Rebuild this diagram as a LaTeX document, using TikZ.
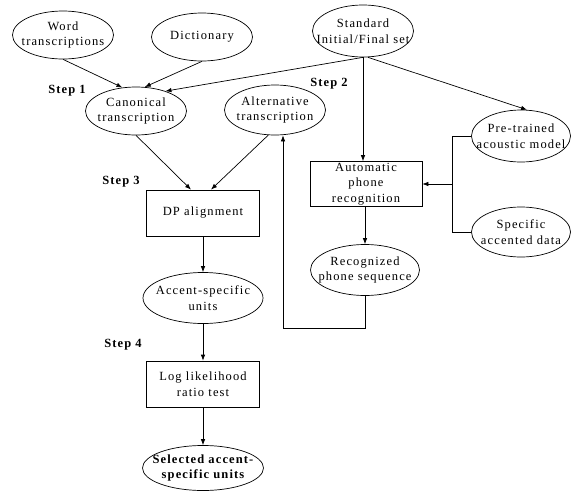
\documentclass[tikz,border=0pt]{standalone}
\usepackage{fontspec}
\setmainfont{Liberation Serif}[LetterSpace=9]
\usetikzlibrary{shapes.geometric, arrows.meta}
\newcommand{\diagfont}{\fontsize{12.5}{15.5}\selectfont}
\begin{document}
\begin{tikzpicture}[
x=1pt, y=-1pt,
font=\diagfont,
source/.style={ellipse, draw=black, line width=0.7pt, minimum width=101pt, minimum height=48pt, inner sep=0pt},
process/.style={rectangle, draw=black, line width=0.7pt, minimum width=113pt, minimum height=46pt, inner sep=0pt, align=center},
steplabel/.style={font=\diagfont\bfseries},
flow/.style={-{Latex[length=6pt, width=4.5pt]}, line width=0.7pt},
link/.style={line width=0.7pt},
every label/.style={align=center},
]
\useasboundingbox (0,0) rectangle (571,493);

\node[source] [label=center:{Word\\transcriptions}] (word) at (63,35) {};
\node[source] [label=center:{Dictionary}] (dict) at (202,37) {};
\node[source, minimum height=52pt] [label=center:{Standard\\Initial/Final set}] (std) at (363,31) {};
\node[source] [label=center:{Canonical\\transcription}] (canon) at (136,111) {};
\node[source, minimum height=50pt] [label=center:{Alternative\\transcription}] (alt) at (275,110) {};
\node[source, minimum width=99pt, minimum height=52pt] [label=center:{Pre-trained\\acoustic model}] (pretrained) at (521,136) {};
\node[process, minimum width=112pt, minimum height=45pt] (apr) at (366,184) {Automatic\\phone\\recognition};
\node[source, minimum width=99pt, minimum height=50pt] [label=center:{Specific\\accented data}] (specific) at (521,232) {};
\node[source, minimum width=109pt, minimum height=51pt] [label=center:{Recognized\\phone sequence}] (recog) at (365,270) {};
\node[process] (dp) at (203,213) {DP alignment};
\node[source, minimum width=120pt, minimum height=51pt] [label=center:{Accent-specific\\units}] (accent) at (203,298) {};
\node[process] (llr) at (203,384) {Log likelihood\\ratio test};
\node[source, minimum width=121pt, minimum height=45pt] [label={[font=\diagfont\bfseries]center:{Selected accent-\\specific units}}] (selected) at (203,468) {};

\node[steplabel] (step1) at (67,91) {Step 1};
\node[steplabel] (step2) at (329,84) {Step 2};
\node[steplabel] (step3) at (121,182) {Step 3};
\node[steplabel] (step4) at (123,345) {Step 4};

\coordinate (join) at (452,184);
\coordinate (loop) at (283,328);

\draw[flow] (word.south) -- (canon.120);
\draw[flow] (dict.south) -- (canon.70);
\draw[flow] (std.south) -- (canon.34);
\draw[flow] (std.south) -- (std.south |- apr.north);
\draw[flow] (std.-80) -- (pretrained.77);
\draw[flow] (canon.south) -- ([xshift=-12pt]dp.north);
\draw[flow] (alt.255) -- ([xshift=8pt]dp.north);
\draw[flow] (dp) -- (accent);
\draw[flow] (accent) -- (llr);
\draw[flow] (llr) -- (selected);
\draw[flow] (recog.north |- apr.south) -- (recog.north);
\draw[flow] (recog.south) |- (loop) -- (loop |- alt.south);
\draw[link] (pretrained.west) -| (join);
\draw[link] (specific.west) -| (join);
\draw[flow] (join) -- (apr.east);
\end{tikzpicture}
\end{document}
